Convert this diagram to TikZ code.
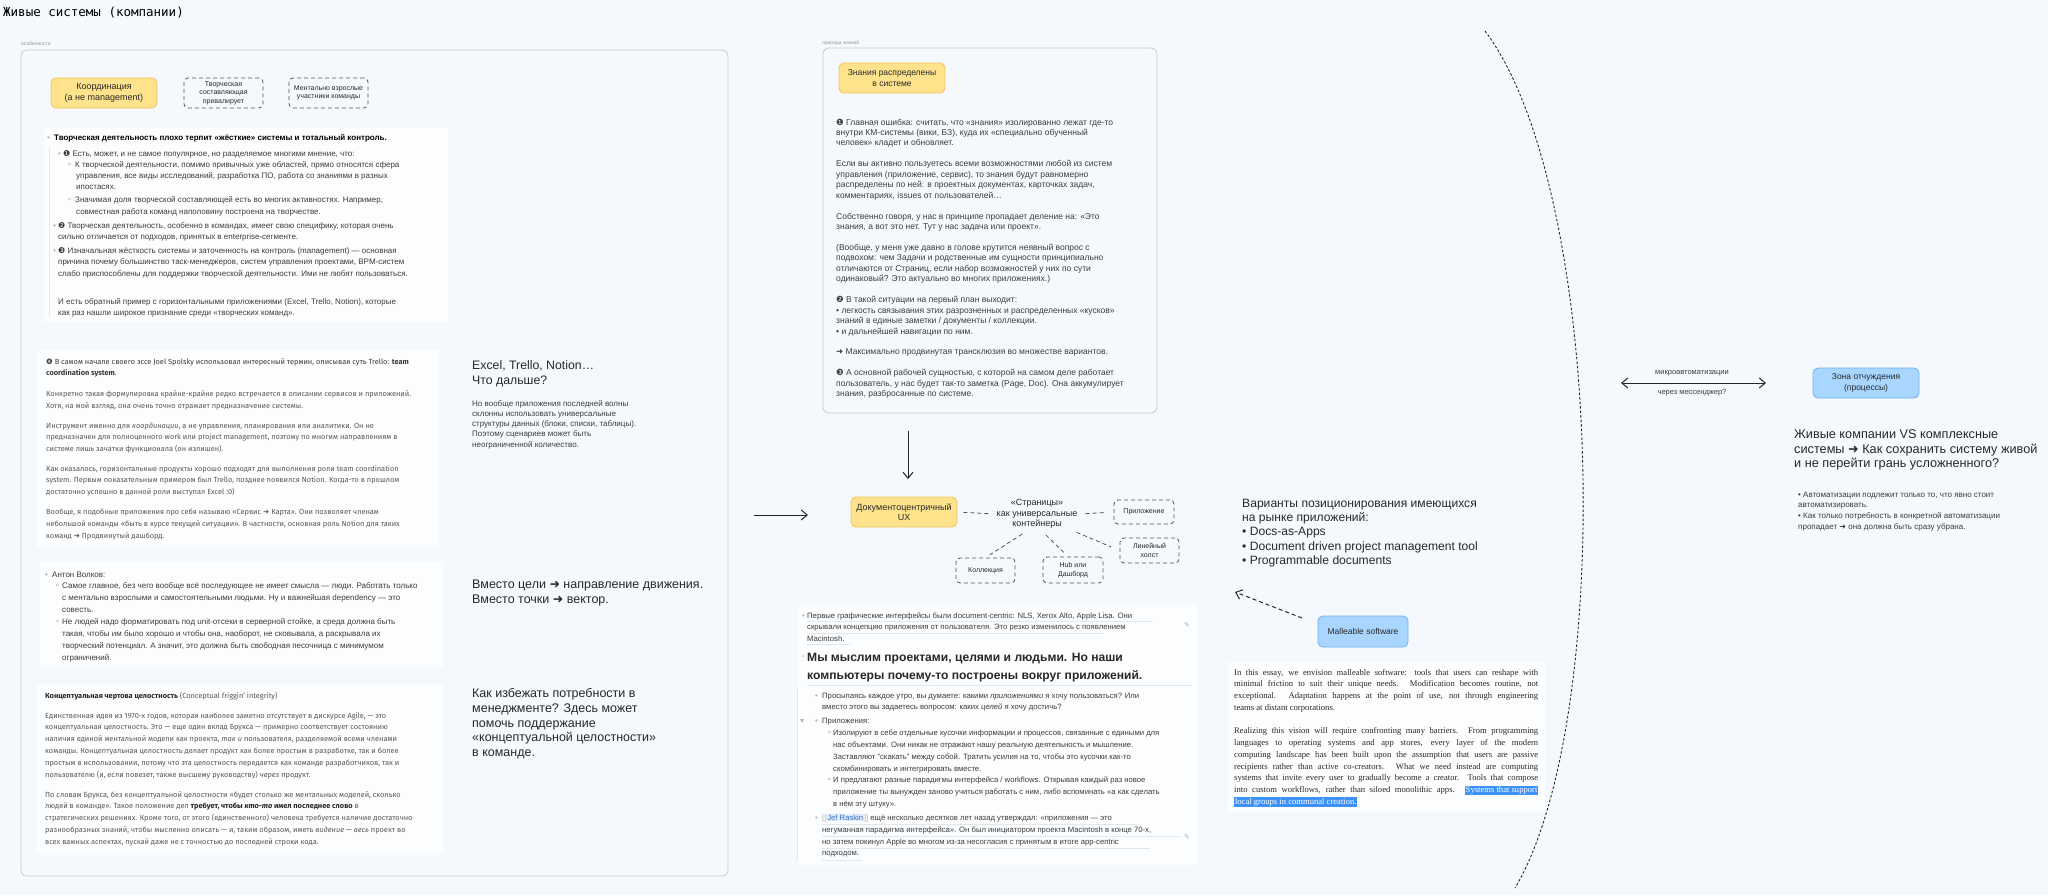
\documentclass[tikz,border=0pt]{standalone}
\usepackage{fontspec}
\setmainfont{Liberation Sans}
\newfontfamily\fira{Fira Sans}
\newfontfamily\dv{DejaVu Sans}
\newfontfamily\dvmono{DejaVu Sans Mono}
\newfontfamily\lser{Liberation Serif}
\usetikzlibrary{arrows.meta}
\definecolor{bgc}{RGB}{245,249,253}
\definecolor{cardc}{RGB}{252,253,254}
\definecolor{panelb}{RGB}{196,202,210}
\definecolor{yfill}{RGB}{255,227,140}
\definecolor{ybord}{RGB}{240,196,90}
\definecolor{bfill}{RGB}{168,214,255}
\definecolor{bbord}{RGB}{110,176,240}
\definecolor{txt}{RGB}{40,40,40}
\definecolor{txtd}{RGB}{60,60,60}
\definecolor{txtg}{RGB}{88,88,88}
\definecolor{bulc}{RGB}{175,175,175}
\definecolor{lblc}{RGB}{150,150,150}
\definecolor{dashc}{RGB}{85,85,85}
\definecolor{hlc}{RGB}{60,145,250}
\definecolor{linkc}{RGB}{60,110,200}
\definecolor{linkbg}{RGB}{225,236,250}
\definecolor{faint}{RGB}{226,231,237}
\setlength{\fboxsep}{0.8pt}
\newcommand\fsz[2]{\fontsize{#1}{#2}\selectfont}
\newcommand\TT[1]{\begin{tabular}[t]{@{}l@{}}#1\end{tabular}}
\newcommand\Lb[4]{\hspace*{#1pt}\makebox[\dimexpr#2pt-#1pt\relax][l]{#3}#4}
\newcommand\Li[2]{\hspace*{#1pt}#2}
\newcommand\bu{\textcolor{bulc}{•}}
\newcommand\ci{\textcolor{txtg}{{\dv ◦}}}
\newcommand\Ar{{\dv ➜}}
\newcommand\Dg[1]{{\dv #1}}
\newcommand\Jl[1]{\makebox[304pt][s]{#1}}
\tikzset{
 ybox/.style={draw=ybord, fill=yfill, rounded corners=5pt, line width=0.8pt, align=center, inner sep=0pt, text=txt},
 bbox/.style={draw=bbord, fill=bfill, rounded corners=5pt, line width=0.8pt, align=center, inner sep=0pt, text=txt},
 dbox/.style={draw=dashc, dash pattern=on 4pt off 3pt, rounded corners=4pt, line width=0.8pt, align=center, inner sep=0pt, text=txt},
 tb/.style={inner sep=0pt, anchor=base west},
 card/.style={fill=cardc, draw=none},
 panel/.style={draw=panelb, line width=0.8pt, rounded corners=6pt},
 fline/.style={draw=faint, line width=0.7pt},
 conn/.style={draw=dashc, dash pattern=on 4pt off 3pt, line width=0.8pt},
 arr/.style={draw=black!85, line width=1pt, -{Straight Barb[length=6pt,width=10pt]}},
 darr/.style={draw=black!85, line width=1pt, {Straight Barb[length=6pt,width=10pt]}-{Straight Barb[length=6pt,width=10pt]}},
 dsharr/.style={draw=black!85, line width=1pt, dash pattern=on 4pt off 3pt, -{Straight Barb[length=6pt,width=10pt]}},
 arcl/.style={draw=black!85, line width=0.9pt, dash pattern=on 2.5pt off 2pt},
}
\begin{document}
\begin{tikzpicture}[x=1pt,y=-1pt]
\useasboundingbox (0,0) rectangle (2048,895);
\fill[bgc] (0,0) rectangle (2048,895);

% title
\node[tb, font=\dvmono\fsz{12.5}{14}] (title) at (3,16.5) {Живые системы (компании)};

% ---------- left panel ----------
\node[tb, text=lblc, font=\fsz{5}{6}] (lfeat) at (21,45.5) {особенности};
\draw[panel] (21,50) rectangle (728,876);

\node[ybox, minimum width=106pt, minimum height=30pt, font=\fsz{9}{11}] (koord) at (104,93) {Координация\\(а не management)};
\node[dbox, minimum width=79pt, minimum height=30pt, font=\fsz{7}{8.6}] (tvor) at (223.5,93) {Творческая\\составляющая\\превалирует};
\node[dbox, minimum width=79pt, minimum height=30pt, font=\fsz{7}{8.6}] (ment) at (328.5,93) {Ментально взрослые\\участники команды};

% card 1
\fill[card] (44,128) rectangle (448,322);
\draw[fline] (49.5,147) -- (49.5,317);
\node[tb, text=txtd, font=\fsz{8}{11.3}] (c1t) at (47,140) {\TT{%
\Lb{0}{7}{\bu}{\textcolor{black}{\textbf{Творческая деятельность плохо терпит «жёсткие» системы и тотальный контроль.}}}\\[4.7pt]
\Lb{11}{16}{\bu}{\Dg{❶} Есть, может, и не самое популярное, но разделяемое многими мнение, что:}\\
\Lb{20}{28}{\ci}{К творческой деятельности, помимо привычных уже областей, прямо относятся сфера}\\
\Li{29}{управления, все виды исследований, разработка ПО, работа со знаниями в разных}\\
\Li{29}{ипостасях.}\\[1.7pt]
\Lb{20}{28}{\ci}{Значимая доля творческой составляющей есть во многих активностях. Например,}\\
\Li{29}{совместная работа команд наполовину построена на творчестве.}\\[2.7pt]
\Lb{6}{11}{\bu}{\Dg{❷} Творческая деятельность, особенно в командах, имеет свою специфику, которая очень}\\
\Li{11}{сильно отличается от подходов, принятых в enterprise-сегменте.}\\[2.7pt]
\Lb{6}{11}{\bu}{\Dg{❸} Изначальная жёсткость системы и заточенность на контроль (management) — основная}\\
\Li{11}{причина почему большинство таск-менеджеров, систем управления проектами, BPM-систем}\\
\Li{11}{слабо приспособлены для поддержки творческой деятельности. Ими не любят пользоваться.}\\[16.7pt]
\Li{11}{И есть обратный пример с горизонтальными приложениями (Excel, Trello, Notion), которые}\\
\Li{11}{как раз нашли широкое признание среди «творческих команд».}}};

% card 2
\fill[card] (37,350) rectangle (439,547);
\node[tb, text=txtg, font=\fira\fsz{7.4}{11.8}] (c2t) at (46,364) {\TT{%
\textcolor{txtd}{\Dg{❹} В самом начале своего эссе Joel Spolsky использовал интересный термин, описывая суть Trello: \textbf{team}}\\
\textcolor{txtd}{\textbf{coordination system}.}\\[8.6pt]
Конкретно такая формулировка крайне-крайне редко встречается в описании сервисов и приложений.\\
Хотя, на мой взгляд, она очень точно отражает предназначение системы.\\[8.3pt]
Инструмент именно для \textit{координации}, а не управления, планирования или аналитики. Он не\\
предназначен для полноценного work или project management, поэтому по многим направлениям в\\
системе лишь зачатки функционала (он излишен).\\[7.6pt]
Как оказалось, горизонтальные продукты хорошо подходят для выполнения роли team coordination\\
system. Первым показательным примером был Trello, позднее появился Notion. Когда-то в прошлом\\
достаточно успешно в данной роли выступал Excel :0)\\[8.3pt]
Вообще, я подобные приложения про себя называю «Сервис \Ar{} Карта». Они позволяет членам\\
небольшой команды «быть в курсе текущей ситуации». В частности, основная роль Notion для таких\\
команд \Ar{} Продвинутый дашборд.}};

% card 3
\fill[card] (40,562) rectangle (443,667);
\node[tb, text=txtd, font=\fsz{8}{11.86}] (c3t) at (45,577) {\TT{%
\Lb{0}{7}{\bu}{Антон Волков:}\\
\Lb{10}{17}{\ci}{Самое главное, без чего вообще всё последующее не имеет смысла — люди. Работать только}\\
\Li{17}{с ментально взрослыми и самостоятельными людьми. Ну и важнейшая dependency — это}\\
\Li{17}{совесть.}\\
\Lb{10}{17}{\ci}{Не людей надо форматировать под unit-отсеки в серверной стойке, а среда должна быть}\\
\Li{17}{такая, чтобы им было хорошо и чтобы она, наоборот, не сковывала, а раскрывала их}\\
\Li{17}{творческий потенциал. А значит, это должна быть свободная песочница с минимумом}\\
\Li{17}{ограничений.}}};

% card 4
\fill[card] (37,684) rectangle (443,853);
\node[tb, text=txtg, font=\fira\fsz{7.4}{11.8}] (c4t) at (45,698) {\TT{%
\textcolor{txt}{\textbf{Концептуальная чертова целостность}} (Conceptual friggin’ integrity)\\[8.2pt]
Единственная идея из 1970-х годов, которая наиболее заметно отсутствует в дискурсе Agile, — это\\
концептуальная целостность. Это — еще один вклад Брукса — примерно соответствует состоянию\\
наличия единой ментальной модели как проекта, \textit{так и} пользователя, разделяемой всеми членами\\
команды. Концептуальная целостность делает продукт как более простым в разработке, так и более\\
простым в использовании, потому что эта целостность передается как команде разработчиков, так и\\
пользователю (и, если повезет, также высшему руководству) \textit{через} продукт.\\[8.2pt]
По словам Брукса, без концептуальной целостности «будет столько же ментальных моделей, сколько\\
людей в команде». Такое положение дел \textcolor{txt}{\textbf{требует, чтобы \textit{кто-то} имел последнее слово}} в\\
стратегических решениях. Кроме того, от этого (единственного) человека требуется наличие достаточно\\
разнообразных знаний, чтобы мысленно описать — и, таким образом, иметь \textit{видение} — \textit{весь} проект во\\
всех важных аспектах, пускай даже не с точностью до последней строки кода.}};

% middle column texts
\node[tb, text=txt, font=\fsz{12.3}{15}] (excel) at (472,369.5) {\TT{Excel, Trello, Notion…\\Что дальше?}};
\node[tb, text=txtd, font=\fsz{8}{10.3}] (excelsub) at (472,406) {\TT{Но вообще приложения последней волны\\склонны использовать универсальные\\структуры данных (блоки, списки, таблицы).\\Поэтому сценариев может быть\\неограниченной количество.}};
\node[tb, text=txt, font=\fsz{12.5}{15}] (vmesto) at (472,588.5) {\TT{Вместо цели \Ar{} направление движения.\\Вместо точки \Ar{} вектор.}};
\node[tb, text=txt, font=\fsz{12.5}{14.8}] (kak) at (472,697.5) {\TT{Как избежать потребности в\\менеджменте? Здесь может\\помочь поддержание\\«концептуальной целостности»\\в команде.}};

% ---------- centre panel ----------
\node[tb, text=lblc, font=\fsz{5}{6}] (lknow) at (822,44.5) {природа знаний};
\draw[panel] (823,48) rectangle (1157,413);
\node[ybox, minimum width=106pt, minimum height=30pt, font=\fsz{8.5}{10.5}] (znan) at (892,78) {Знания распределены\\в системе};
\node[tb, text=txtd, font=\fsz{8.5}{10.45}] (kt) at (836,125) {\TT{%
\Dg{❶} Главная ошибка: считать, что «знания» изолированно лежат где-то\\
внутри КМ-системы (вики, БЗ), куда их «специально обученный\\
человек» кладет и обновляет.\\[10.45pt]
Если вы активно пользуетесь всеми возможностями любой из систем\\
управления (приложение, сервис), то знания будут равномерно\\
распределены по ней: в проектных документах, карточках задач,\\
комментариях, issues от пользователей…\\[10.45pt]
Собственно говоря, у нас в принципе пропадает деление на: «Это\\
знания, а вот это нет. Тут у нас задача или проект».\\[10.45pt]
(Вообще, у меня уже давно в голове крутится неявный вопрос с\\
подвохом: чем Задачи и родственные им сущности принципиально\\
отличаются от Страниц, если набор возможностей у них по сути\\
одинаковый? Это актуально во многих приложениях.)\\[10.45pt]
\Dg{❷} В такой ситуации на первый план выходит:\\
• легкость связывания этих разрозненных и распределенных «кусков»\\
знаний в единые заметки / документы / коллекции.\\
• и дальнейшей навигации по ним.\\[10.45pt]
\Ar{} Максимально продвинутая трансклюзия во множестве вариантов.\\[10.45pt]
\Dg{❸} А основной рабочей сущностью, с которой на самом деле работает\\
пользователь, у нас будет так-то заметка (Page, Doc). Она аккумулирует\\
знания, разбросанные по системе.}};

% arrows into document-centric UX
\coordinate (dA) at (908,431);
\coordinate (dB) at (908,479);
\draw[arr] (dA) -- (dB);
\coordinate (lA) at (754,515);
\coordinate (lB) at (808,515);
\draw[arr] (lA) -- (lB);

\node[ybox, minimum width=106pt, minimum height=30pt, font=\fsz{9}{10.5}] (docux) at (904,512) {Документоцентричный\\UX};
\node[align=center, inner sep=2pt, text=txt, font=\fsz{9}{10.5}] (pages) at (1037,514) {«Страницы»\\как универсальные\\контейнеры};
\node[dbox, minimum width=60pt, minimum height=24pt, font=\fsz{7}{8.5}] (app) at (1144,512) {Приложение};
\node[dbox, minimum width=59pt, minimum height=25pt, font=\fsz{7}{8.5}] (lin) at (1149.5,550.5) {Линейный\\холст};
\node[dbox, minimum width=60pt, minimum height=26pt, font=\fsz{7}{8.5}] (hub) at (1073,570) {Hub или\\Дашборд};
\node[dbox, minimum width=59pt, minimum height=25pt, font=\fsz{7}{8.5}] (coll) at (985.5,570.5) {Коллекция};
\draw[conn, shorten <=6pt, shorten >=6pt] (docux.east) -- (pages.west);
\draw[conn, shorten <=6pt, shorten >=10pt] (pages.east) -- (app.west);
\draw[conn, shorten <=6pt, shorten >=5pt] (pages.240) -- (coll.north);
\draw[conn, shorten <=6pt, shorten >=4pt] (pages.285) -- (hub.110);
\draw[conn, shorten <=4pt, shorten >=9pt] (pages.335) -- (lin.west);

% bottom centre card
\fill[card] (798,605) rectangle (1197,865);
\draw[fline] (807,621.5) -- (1153,621.5);
\draw[fline] (807,633) -- (1103,633);
\draw[fline] (807,644.5) -- (851,644.5);
\draw[fline] (807,685) -- (1192,685);
\draw[fline] (822,824.5) -- (1138,824.5);
\draw[fline] (822,836.5) -- (1180,836.5);
\draw[fline] (822,848.5) -- (1150,848.5);
\draw[fline] (822,860.5) -- (862,860.5);
\draw[fline] (797,688) -- (797,861);
\node[tb, text=txtd, font=\fsz{7.7}{11.6}] (j1) at (802,618) {\TT{%
\Lb{0}{5}{\bu}{Первые графические интерфейсы были document-centric: NLS, Xerox Alto, Apple Lisa. Они}\\
\Li{5}{скрывали концепцию приложения от пользователя. Это резко изменилось с появлением}\\
\Li{5}{Macintosh.}}};
\node[tb, text=txt, font=\fsz{12.1}{18}] (j2) at (802,661.5) {\TT{%
\Lb{0}{5}{\raisebox{3pt}{\fsz{6}{7}\bu}}{\textbf{Мы мыслим проектами, целями и людьми. Но наши}}\\
\Li{5}{\textbf{компьютеры почему-то построены вокруг приложений.}}}};
\node[tb, text=txtd, font=\fsz{7.7}{11.8}] (j3) at (800,698) {\TT{%
\Lb{15}{22}{\bu}{Просыпаясь каждое утро, вы думаете: какими \textit{приложениями} я хочу пользоваться? Или}\\
\Li{22}{вместо этого вы задаетесь вопросом: каких \textit{целей} я хочу достичь?}\\[2.2pt]
\Lb{0}{15}{\textcolor{bulc}{\Dg{▾}}}{\makebox[7pt][l]{\bu}Приложения:}\\
\Lb{27}{33}{\ci}{Изолируют в себе отдельные кусочки информации и процессов, связанные с едиными для}\\
\Li{33}{нас объектами. Они никак не отражают нашу реальную деятельность и мышление.}\\
\Li{33}{Заставляют "скакать" между собой. Тратить усилия на то, чтобы это кусочки как-то}\\
\Li{33}{скомбинировать и интегрировать вместе.}\\
\Lb{27}{33}{\ci}{И предлагают разные парадигмы интерфейса / workflows. Открывая каждый раз новое}\\
\Li{33}{приложение ты вынужден заново учиться работать с ним, либо вспоминать «а как сделать}\\
\Li{33}{в нём эту штуку».}\\[2.2pt]
\Lb{15}{22}{\bu}{\textcolor{bulc}{[[}\colorbox{linkbg}{\textcolor{linkc}{Jef Raskin}}\textcolor{bulc}{]]} ещё несколько десятков лет назад утверждал: «приложения — это}\\
\Li{22}{негуманная парадигма интерфейса». Он был инициатором проекта Macintosh в конце 70-х,}\\
\Li{22}{но затем покинул Apple во многом из-за несогласия с принятым в итоге app-centric}\\
\Li{22}{подходом.}}};
\node[text=bulc, inner sep=0pt, font=\dv\fsz{7}{8}] (pen1) at (1187,625) {✎};
\node[text=bulc, inner sep=0pt, font=\dv\fsz{7}{8}] (pen2) at (1187,837) {✎};

% ---------- right part ----------
\node[tb, text=txt, font=\fsz{12.1}{14.3}] (var) at (1242,507.3) {\TT{Варианты позиционирования имеющихся\\на рынке приложений:\\• Docs-as-Apps\\• Document driven project management tool\\• Programmable documents}};
\node[bbox, minimum width=90pt, minimum height=31pt, font=\fsz{8.5}{10}] (mall) at (1363,631.5) {Malleable software};
\coordinate (mA) at (1302,618);
\coordinate (mB) at (1235,592);
\draw[dsharr] (mA) -- (mB);

\fill[card] (1228,662) rectangle (1545,812);
\node[tb, text=txt, font=\lser\fsz{8.6}{11.75}] (malt) at (1234,675) {\TT{%
\Jl{In this essay, we envision malleable software: tools that users can reshape with}\\
\Jl{minimal friction to suit their unique needs. Modification becomes routine, not}\\
\Jl{exceptional. Adaptation happens at the point of use, not through engineering}\\
teams at distant corporations.\\[11.75pt]
\Jl{Realizing this vision will require confronting many barriers. From programming}\\
\Jl{languages to operating systems and app stores, every layer of the modern}\\
\Jl{computing landscape has been built upon the assumption that users are passive}\\
\Jl{recipients rather than active co-creators. What we need instead are computing}\\
\Jl{systems that invite every user to gradually become a creator. Tools that compose}\\
\Jl{into custom workflows, rather than siloed monolithic apps. \colorbox{hlc}{\textcolor{white}{Systems that support}}}\\
\colorbox{hlc}{\textcolor{white}{local groups in communal creation.}}}};

\draw[arcl] (1485,31) .. controls (1605,190) and (1615,720) .. (1515,888);

\coordinate (aL) at (1621,383);
\coordinate (aR) at (1766,383);
\draw[darr] (aL) -- (aR);
\node[text=txtd, inner sep=0pt, font=\fsz{7.5}{9}] (microt) at (1692,373) {микроавтоматизации};
\node[text=txtd, inner sep=0pt, font=\fsz{7.5}{9}] (microb) at (1692,393) {через мессенджер?};

\node[bbox, minimum width=106pt, minimum height=30pt, font=\fsz{8.5}{10.5}] (zona) at (1866,383) {Зона отчуждения\\(процессы)};
\node[tb, text=txt, font=\fsz{12.7}{14.5}] (zhiv) at (1794,438.5) {\TT{Живые компании VS комплексные\\системы \Ar{} Как сохранить систему живой\\и не перейти грань усложненного?}};
\node[tb, text=txtd, font=\fsz{8}{10.7}] (autom) at (1798,497) {\TT{• Автоматизации подлежит только то, что явно стоит\\автоматизировать.\\• Как только потребность в конкретной автоматизации\\пропадает \Ar{} она должна быть сразу убрана.}};
\end{tikzpicture}
\end{document}
